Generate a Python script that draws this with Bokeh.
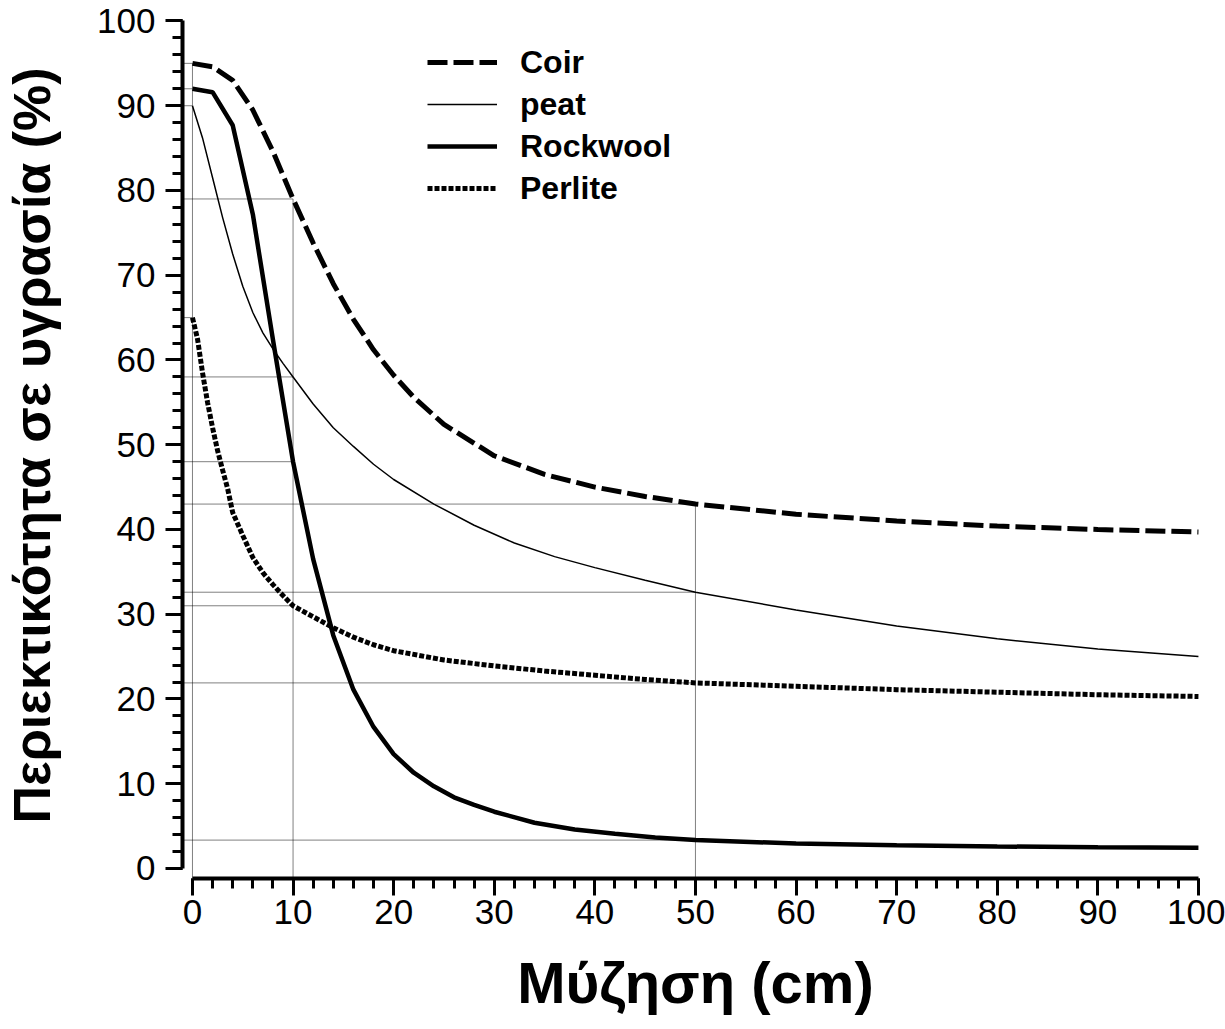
import numpy as np
from bokeh.plotting import figure
from bokeh.models import Range1d, SingleIntervalTicker, Legend, LegendItem
from bokeh.embed import file_html
from bokeh.resources import INLINE

# ---- data ----
coir_x = [0, 2, 4, 6, 8, 10, 12, 14, 16, 18, 20, 22, 25, 30, 35, 40, 45, 50, 60, 70, 80, 90, 100]
coir_y = [95, 94.6, 93.0, 89.5, 84.6, 79, 73.8, 69.0, 64.8, 61.2, 58.2, 55.6, 52.4, 48.7, 46.5, 45.0, 43.9, 43.0, 41.8, 41.0, 40.4, 40.0, 39.7]

peat_x = [0, 1, 2, 3, 4, 5, 6, 7, 8, 9, 10, 12, 14, 16, 18, 20, 24, 28, 32, 36, 40, 45, 50, 60, 70, 80, 90, 100]
peat_y = [90, 86.2, 81.5, 76.8, 72.5, 68.7, 65.6, 63.2, 61.3, 59.6, 58, 54.8, 52.0, 49.8, 47.7, 45.9, 43.0, 40.5, 38.4, 36.8, 35.5, 34.0, 32.6, 30.5, 28.6, 27.1, 25.9, 25.0]

rock_x = [0, 2, 4, 6, 8, 10, 12, 14, 16, 18, 20, 22, 24, 26, 28, 30, 34, 38, 42, 46, 50, 60, 70, 80, 90, 100]
rock_y = [92, 91.6, 87.7, 77.2, 62.4, 48, 36.5, 27.5, 21.1, 16.7, 13.5, 11.3, 9.7, 8.4, 7.5, 6.7, 5.4, 4.6, 4.1, 3.65, 3.35, 2.95, 2.75, 2.6, 2.5, 2.45]

perl_x = [0, 0.5, 1, 1.5, 2, 2.5, 3, 3.5, 4, 5, 6, 7, 8, 9, 10, 12, 14, 16, 18, 20, 25, 30, 35, 40, 45, 50, 60, 70, 80, 90, 100]
perl_y = [65, 62.5, 58.5, 55, 52, 49.3, 47, 44.8, 42, 39.3, 36.7, 34.9, 33.5, 32.2, 31, 29.7, 28.4, 27.3, 26.4, 25.7, 24.6, 23.9, 23.3, 22.8, 22.3, 21.9, 21.5, 21.1, 20.8, 20.5, 20.3]

series_names = ["Coir", "peat", "Rockwool", "Perlite"]
drop_x = [0, 10, 50]          # x values where dotted reference lines are drawn

x_ticks_interval = 10
y_ticks_interval = 10

FONT = "Liberation Sans"

x_range = Range1d(-0.99, 101)
y_range = Range1d(-1.18, 101)

p = figure(width=1225, height=1029, x_range=x_range, y_range=y_range,
           output_backend="svg", toolbar_location=None,
           min_border_left=180, min_border_right=17, min_border_top=12, min_border_bottom=151)
p.outline_line_color = None
p.grid.visible = False
p.background_fill_color = "white"
p.border_fill_color = "white"

# ---- dotted reference lines ----
series = [(coir_x, coir_y), (peat_x, peat_y), (rock_x, rock_y), (perl_x, perl_y)]
for dx in drop_x:
    vals = [float(np.interp(dx, sx, sy)) for sx, sy in series]
    for v in vals:
        p.line([x_range.start, dx], [v, v], line_color="black", line_width=1, line_dash="1 1")
    p.line([dx, dx], [y_range.start, max(vals)], line_color="black", line_width=1, line_dash="1 1")

# ---- curves ----
r_coir = p.line(coir_x, coir_y, line_color="black", line_width=5, line_dash="20 6")
r_peat = p.line(peat_x, peat_y, line_color="black", line_width=1.5)
r_rock = p.line(rock_x, rock_y, line_color="black", line_width=4.5)
r_perl = p.line(perl_x, perl_y, line_color="black", line_width=5, line_dash="5 2")

legend = Legend(items=[LegendItem(label=series_names[0], renderers=[r_coir]),
                       LegendItem(label=series_names[1], renderers=[r_peat]),
                       LegendItem(label=series_names[2], renderers=[r_rock]),
                       LegendItem(label=series_names[3], renderers=[r_perl])],
                location=(245, 671), orientation="vertical")
legend.background_fill_alpha = 0
legend.border_line_color = None
legend.padding = 0
legend.margin = 0
legend.spacing = 4
legend.glyph_width = 70
legend.glyph_height = 38
legend.label_height = 38
legend.label_standoff = 23
legend.label_text_font = FONT
legend.label_text_font_style = "bold"
legend.label_text_font_size = "32px"
legend.label_text_color = "black"
legend.label_text_baseline = "middle"
p.add_layout(legend)

# ---- axes ----
for ax, interval in ((p.xaxis[0], x_ticks_interval), (p.yaxis[0], y_ticks_interval)):
    ax.ticker = SingleIntervalTicker(interval=interval, num_minor_ticks=5)
    ax.bounds = (0, 100)
    ax.axis_line_width = 4
    ax.axis_line_color = "black"
    ax.major_tick_line_width = 3
    ax.minor_tick_line_width = 3
    ax.major_tick_line_color = "black"
    ax.minor_tick_line_color = "black"
    ax.major_tick_out = 17
    ax.major_tick_in = 0
    ax.minor_tick_out = 10
    ax.minor_tick_in = 0
    ax.major_label_text_font = FONT
    ax.major_label_text_font_size = "35px"
    ax.major_label_text_color = "black"
    ax.axis_label_text_font = FONT
    ax.axis_label_text_font_style = "bold"
    ax.axis_label_text_color = "black"

p.xaxis.axis_label = "Μύζηση (cm)"
p.xaxis.axis_label_text_font_size = "58px"
p.xaxis.major_label_standoff = 4
p.xaxis.axis_label_standoff = 23

p.yaxis.axis_label = "Περιεκτικότητα σε υγρασία (%)"
p.yaxis.axis_label_text_font_size = "52px"
p.yaxis.major_label_standoff = 10
p.yaxis.axis_label_standoff = 33

open("out.html", "w").write(file_html(p, INLINE))
